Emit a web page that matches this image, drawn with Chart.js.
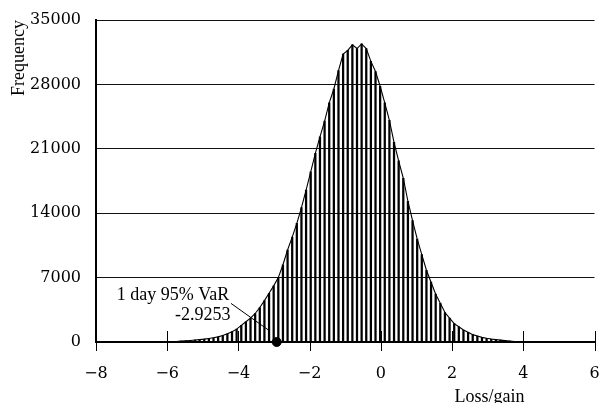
<!DOCTYPE html>
<html>
<head>
<meta charset="utf-8">
<script src="https://cdn.jsdelivr.net/npm/chart.js@4"></script>
<style>
    html, body { margin: 0; padding: 0; background: #fff; }
    #wrap { width: 601px; height: 403px; }
</style>
</head>
<body>
<div id="wrap"><canvas id="varChart" width="601" height="403"></canvas></div>
<script>
// bin centres of the loss/gain histogram
const binCenters = [
    -6.00, -5.87, -5.74, -5.61, -5.48, -5.35, -5.22, -5.09, -4.96, -4.83,
    -4.70, -4.57, -4.44, -4.31, -4.18, -4.05, -3.92, -3.79, -3.66, -3.53,
    -3.40, -3.27, -3.14, -3.01, -2.88, -2.75, -2.62, -2.49, -2.36, -2.23,
    -2.10, -1.97, -1.84, -1.71, -1.58, -1.45, -1.32, -1.19, -1.06, -0.93,
    -0.80, -0.67, -0.54, -0.41, -0.28, -0.15, -0.02, 0.11, 0.24, 0.37,
    0.50, 0.63, 0.76, 0.89, 1.02, 1.15, 1.28, 1.41, 1.54, 1.67,
    1.80, 1.93, 2.06, 2.19, 2.32, 2.45, 2.58, 2.71, 2.84, 2.97,
    3.10, 3.23, 3.36, 3.49, 3.62, 3.75, 3.88
];

const frequencies = [
    20, 40, 60, 90, 120, 160, 210, 260, 310, 380,
    460, 560, 700, 900, 1120, 1400, 1800, 2200, 2600, 3100,
    3750, 4500, 5300, 6100, 7000, 8400, 10000, 11400, 12900, 14600,
    16500, 18500, 20500, 22300, 24000, 26000, 27500, 29500, 31300, 31700,
    32300, 31900, 32400, 31900, 30500, 29400, 27800, 26000, 24100, 21700,
    19700, 17800, 15300, 13200, 11200, 9500, 7800, 6500, 5200, 4200,
    3200, 2600, 2000, 1650, 1300, 1050, 800, 650, 500, 400,
    320, 260, 200, 150, 100, 50, 20
];

const xTicks = [-8, -6, -4, -2, 0, 2, 4, 6];
const yTicks = [0, 7000, 14000, 21000, 28000, 35000];

const varValue = -2.9253;
const varLabelLines = ["1 day 95% VaR", "-2.9253"];

const histPoints = binCenters.map((x, i) => ({ x: x, y: frequencies[i] }));

// text + tick marks crossing the x axis
const extrasPlugin = {
    id: "extras",
    afterDraw(chart) {
        const ctx = chart.ctx;
        const xs = chart.scales.x;
        const ys = chart.scales.y;
        const bottom = chart.chartArea.bottom;

        ctx.save();
        ctx.strokeStyle = "#000";
        ctx.lineWidth = 1;
        xTicks.forEach((v) => {
            const px = Math.round(xs.getPixelForValue(v)) + 0.5;
            ctx.beginPath();
            ctx.moveTo(px, v === xTicks[0] ? bottom : bottom - 11);
            ctx.lineTo(px, bottom + 9);
            ctx.stroke();
        });

        // VaR label and leader line
        ctx.fillStyle = "#000";
        ctx.font = "18px 'Liberation Serif'";
        ctx.textAlign = "center";
        ctx.textBaseline = "middle";
        ctx.fillText(varLabelLines[0], xs.getPixelForValue(-5.84), ys.getPixelForValue(5110));
        ctx.fillText(varLabelLines[1], xs.getPixelForValue(-5.0), ys.getPixelForValue(2930));

        ctx.beginPath();
        ctx.moveTo(xs.getPixelForValue(-4.21), ys.getPixelForValue(4200));
        ctx.lineTo(xs.getPixelForValue(-3.12), ys.getPixelForValue(1200));
        ctx.stroke();

        // x axis title
        ctx.textBaseline = "alphabetic";
        ctx.fillText("Loss/gain", xs.getPixelForValue(3.05), 402);
        ctx.restore();
    },
};

const ctx = document.getElementById("varChart");

new Chart(ctx, {
    type: "bar",
    data: {
        datasets: [
            {
                type: "scatter",
                data: [{ x: varValue, y: 0 }],
                backgroundColor: "#000",
                borderColor: "#000",
                pointRadius: 4.5,
                clip: false,
                order: 0,
            },
            {
                type: "line",
                data: histPoints,
                borderColor: "#000",
                borderWidth: 1.1,
                pointRadius: 0,
                tension: 0,
                fill: false,
                order: 1,
            },
            {
                type: "bar",
                data: histPoints,
                backgroundColor: "#000",
                barThickness: 1.6,
                order: 2,
            },
        ],
    },
    options: {
        responsive: false,
        animation: false,
        layout: {
            padding: { top: 20, right: 6.5, left: 0, bottom: 0 },
        },
        plugins: {
            legend: { display: false },
            tooltip: { enabled: false },
        },
        scales: {
            x: {
                type: "linear",
                min: -8,
                max: 6,
                offset: false,
                afterBuildTicks: (scale) => {
                    scale.ticks = xTicks.map((v) => ({ value: v }));
                },
                afterFit: (scale) => {
                    scale.height = 61;
                    scale.paddingLeft = 0;
                    scale.paddingRight = 0;
                },
                grid: { display: false, offset: false },
                border: { display: true, color: "#000", width: 2 },
                ticks: {
                    color: "#000",
                    font: { family: "'DejaVu Serif'", size: 16 },
                    padding: 14,
                    maxRotation: 0,
                    callback: (v) => (v < 0 ? "\u2212" + Math.abs(v) : String(v)),
                },
            },
            y: {
                min: 0,
                max: 35000,
                afterBuildTicks: (scale) => {
                    scale.ticks = yTicks.map((v) => ({ value: v }));
                },
                afterFit: (scale) => {
                    scale.width = 96;
                    scale.paddingTop = 0;
                    scale.paddingBottom = 0;
                },
                grid: { color: "#111", lineWidth: 1, drawTicks: false },
                border: { display: true, color: "#000", width: 2 },
                ticks: {
                    color: "#000",
                    font: { family: "'DejaVu Serif'", size: 16 },
                    padding: 15,
                    callback: (v) => String(v),
                },
                title: {
                    display: true,
                    text: "Frequency",
                    align: "end",
                    color: "#000",
                    font: { family: "'Liberation Serif'", size: 18 },
                    padding: { top: 8, bottom: 0 },
                },
            },
        },
    },
    plugins: [extrasPlugin],
});
</script>
</body>
</html>
